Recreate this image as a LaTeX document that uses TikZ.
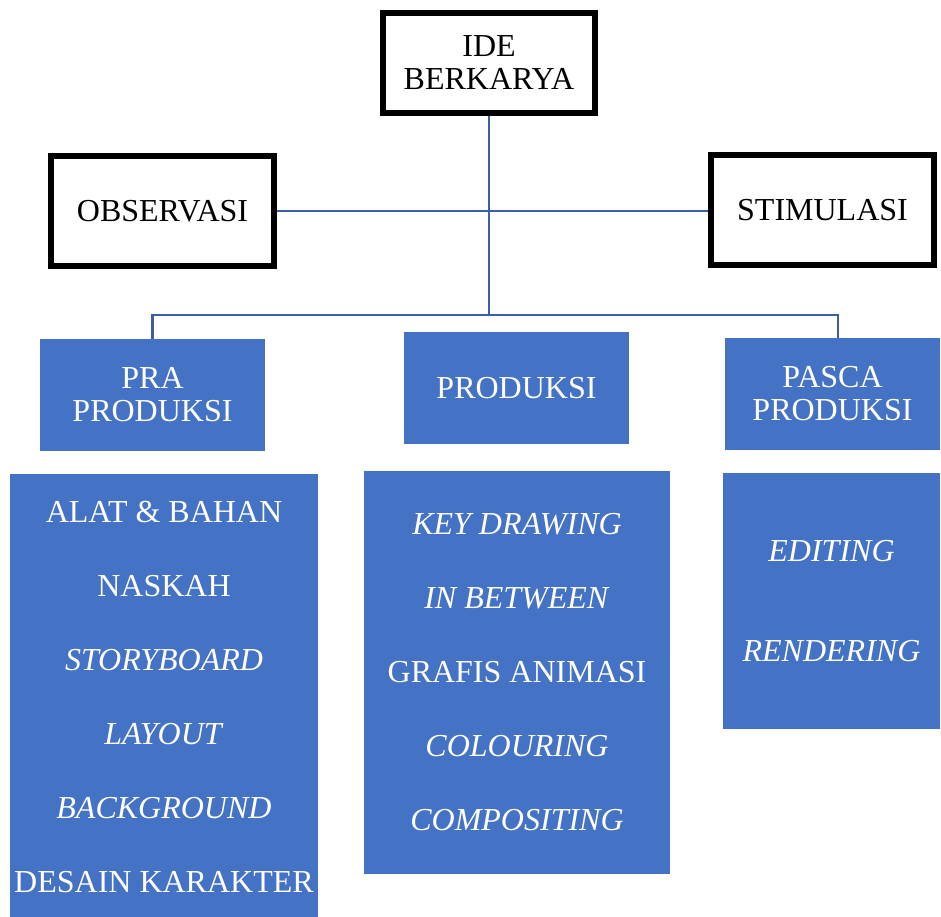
\documentclass[tikz,border=0pt]{standalone}
\usepackage{fontspec}
\setmainfont{Liberation Serif}
\usepackage{xcolor}
\definecolor{boxblue}{HTML}{4472C4}
\definecolor{linkblue}{HTML}{3A5FA6}

\begin{document}
\begin{tikzpicture}[x=1pt,y=-1pt]
		\tikzset{
			idebox/.style = {draw = black, line width = 6pt, fill = white, inner sep = 0pt,
				align = center, font = \fontsize{32}{33}\selectfont},
			phasebox/.style = {fill = boxblue, text = white, inner sep = 0pt, outer sep = 0pt,
				align = center, font = \fontsize{32}{33}\selectfont},
			listbox/.style = {fill = boxblue, text = white, inner sep = 0pt, outer sep = 0pt,
				align = center, font = \fontsize{32}{74}\selectfont, text depth = 0pt},
			link/.style = {draw = linkblue, line width = 2.5pt}
		}
		\useasboundingbox (0,0) rectangle (941,916);
		\node[idebox, minimum width = 212pt, minimum height = 100pt] (ide) at (489,63) {IDE\\BERKARYA};
		\node[idebox, minimum width = 223pt, minimum height = 110pt] (obs) at (162.5,211) {OBSERVASI};
		\node[idebox, minimum width = 223pt, minimum height = 110pt] (stim) at (822.5,210) {STIMULASI};
		\node[phasebox, minimum width = 225pt, minimum height = 112pt] (pra) at (152.5,395) {PRA\\PRODUKSI};
		\node[phasebox, minimum width = 225pt, minimum height = 112pt] (prod) at (516.5,388) {PRODUKSI};
		\node[phasebox, minimum width = 215pt, minimum height = 112pt] (pasca) at (832.5,394) {PASCA\\PRODUKSI};
		\node[listbox, minimum width = 308pt, minimum height = 446pt] (praList) at (164,697)
			{ALAT \& BAHAN\\NASKAH\\\textit{STORYBOARD}\\\textit{LAYOUT}\\\textit{BACKGROUND}\\DESAIN KARAKTER};
		\node[listbox, minimum width = 306pt, minimum height = 403pt] (prodList) at (517,672)
			{\textit{KEY DRAWING}\\\textit{IN BETWEEN}\\GRAFIS ANIMASI\\\textit{COLOURING}\\\textit{COMPOSITING}};
		\node[listbox, minimum width = 217pt, minimum height = 256pt, font = \fontsize{32}{100}\selectfont]
			(pascaList) at (831.5,601) {\textit{EDITING}\\\textit{RENDERING}};
		\coordinate (bus) at (ide.south |- 0,315);
		\draw[link] (ide.south) -- (bus);
		\draw[link] (obs.east) -- (obs.east -| stim.west);
		\draw[link] (pra.north) |- (bus) -| ([xshift = 5.5pt]pasca.north);
	\end{tikzpicture}
\end{document}
